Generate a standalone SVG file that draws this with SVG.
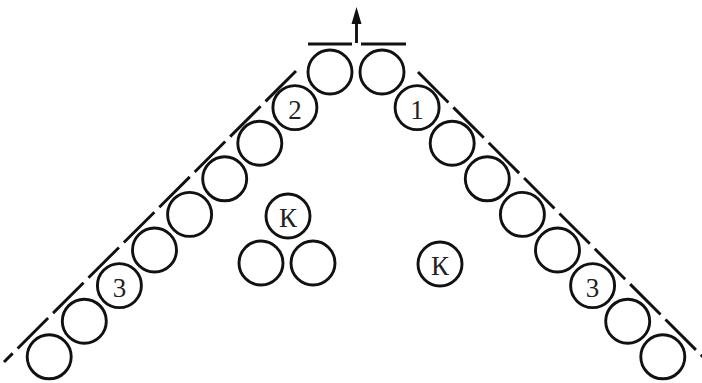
<svg xmlns="http://www.w3.org/2000/svg" width="702" height="383" viewBox="0 0 702 383">
  <style>
    .c { fill: none; stroke: #111; stroke-width: 2.9; }
    .l { stroke: #111; stroke-width: 2.9; fill: none; }
    .d { stroke: #111; stroke-width: 2.9; fill: none; stroke-dasharray: 43 7; }
    .t { font-family: "Liberation Serif", "DejaVu Serif", serif; font-size: 27px; fill: #222; text-anchor: middle; dominant-baseline: central; }
  </style>
  <rect width="702" height="383" fill="#ffffff"/>
  <g id="connectors">
    <line class="d" x1="296" y1="71" x2="4" y2="362"/>
    <line class="d" x1="418" y1="72" x2="710" y2="364"/>
    <line class="l" x1="308" y1="44" x2="352" y2="44"/>
    <line class="l" x1="361" y1="44" x2="406" y2="44"/>
    <line class="l" x1="356.5" y1="43" x2="356.5" y2="20"/>
    <polygon points="356.5,7 351.5,24 361.5,24" fill="#111"/>
  </g>
  <g id="left-row">
    <g id="L0"><circle class="c" cx="330" cy="72" r="22"/></g>
    <g id="L1"><circle class="c" cx="294.9" cy="107.6" r="22"/><text class="t" x="294.9" y="110">2</text></g>
    <g id="L2"><circle class="c" cx="259.8" cy="143.2" r="22"/></g>
    <g id="L3"><circle class="c" cx="224.7" cy="178.8" r="22"/></g>
    <g id="L4"><circle class="c" cx="189.6" cy="214.4" r="22"/></g>
    <g id="L5"><circle class="c" cx="154.5" cy="250" r="22"/></g>
    <g id="L6"><circle class="c" cx="119.4" cy="285.6" r="22"/><text class="t" x="119.4" y="288">3</text></g>
    <g id="L7"><circle class="c" cx="84.3" cy="321.2" r="22"/></g>
    <g id="L8"><circle class="c" cx="49.2" cy="356.8" r="22"/></g>
  </g>
  <g id="right-row">
    <g id="R0"><circle class="c" cx="382" cy="72" r="22"/></g>
    <g id="R1"><circle class="c" cx="417.1" cy="107.6" r="22"/><text class="t" x="417.1" y="110">1</text></g>
    <g id="R2"><circle class="c" cx="452.2" cy="143.2" r="22"/></g>
    <g id="R3"><circle class="c" cx="487.3" cy="178.8" r="22"/></g>
    <g id="R4"><circle class="c" cx="522.4" cy="214.4" r="22"/></g>
    <g id="R5"><circle class="c" cx="557.5" cy="250" r="22"/></g>
    <g id="R6"><circle class="c" cx="592.6" cy="285.6" r="22"/><text class="t" x="592.6" y="288">3</text></g>
    <g id="R7"><circle class="c" cx="627.7" cy="321.2" r="22"/></g>
    <g id="R8"><circle class="c" cx="662.8" cy="356.8" r="22"/></g>
  </g>
  <g id="K1"><circle class="c" cx="288" cy="216" r="22"/><text class="t" x="288" y="218">К</text></g>
  <g id="A1"><circle class="c" cx="261" cy="263" r="22"/></g>
  <g id="A2"><circle class="c" cx="313" cy="263" r="22"/></g>
  <g id="K2"><circle class="c" cx="440" cy="264" r="22"/><text class="t" x="440" y="266">К</text></g>
</svg>
